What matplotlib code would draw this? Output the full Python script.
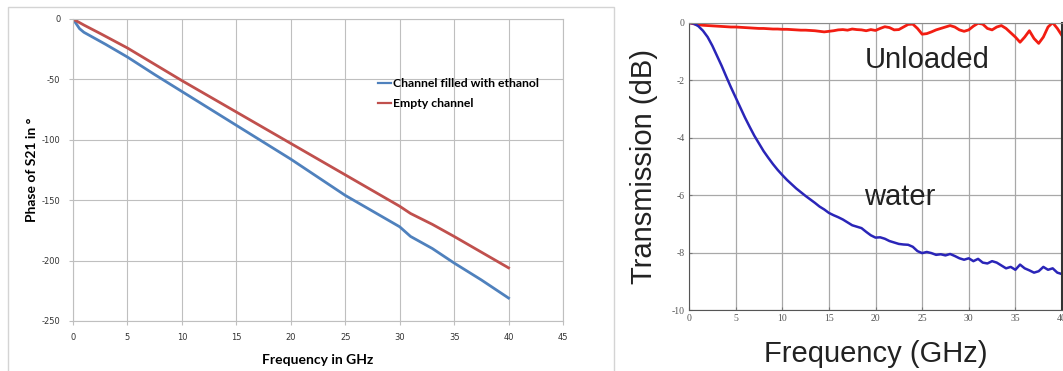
"""Phase of S21 (Excel-style, left) and transmission vs frequency (right)."""
import matplotlib.pyplot as plt
from matplotlib.patches import Rectangle

plt.rcParams["axes.unicode_minus"] = False

# --- left panel: phase of S21 ---
phase_freq_ethanol = [0, 0.3, 0.6, 1, 2, 3, 5, 7.5, 10, 12.5, 15, 17.5, 20, 22.5, 25,
                      27.5, 30, 31, 33, 35, 37.5, 40]
phase_ethanol = [0, -4, -8, -11, -16, -21, -31.5, -46, -60, -74, -88, -102, -116, -131,
                 -146, -159, -172, -180, -190, -202, -216, -231]
phase_freq_empty = [0, 0.5, 1, 2.5, 5, 7.5, 10, 12.5, 15, 17.5, 20, 22.5, 25, 27.5, 30,
                    31, 33, 35, 37.5, 40]
phase_empty = [0, -2.5, -5, -12, -24, -37.5, -51, -64, -77, -90, -103, -116, -129, -142,
               -155, -161, -170, -180, -193, -206]

# --- right panel: transmission ---
trans_freq = [i * 0.5 for i in range(81)]
trans_water = [0, -0.03, -0.12, -0.28, -0.5, -0.8, -1.15, -1.5, -1.88, -2.25,
               -2.6, -2.95, -3.3, -3.62, -3.93, -4.2, -4.47, -4.7, -4.92, -5.12,
               -5.3, -5.47, -5.62, -5.77, -5.9, -6.03, -6.15, -6.27, -6.4, -6.5,
               -6.62, -6.7, -6.77, -6.85, -6.95, -7.05, -7.1, -7.15, -7.28, -7.4,
               -7.48, -7.47, -7.52, -7.6, -7.65, -7.7, -7.72, -7.73, -7.8, -7.95,
               -8.02, -7.98, -8.02, -8.08, -8.06, -8.1, -8.05, -8.12, -8.2, -8.25,
               -8.2, -8.3, -8.22, -8.35, -8.38, -8.3, -8.35, -8.45, -8.55, -8.5,
               -8.6, -8.42, -8.55, -8.62, -8.7, -8.65, -8.5, -8.6, -8.55, -8.7,
               -8.75]
trans_unloaded = [0, -0.04, -0.07, -0.09, -0.1, -0.11, -0.12, -0.13, -0.14, -0.15,
                  -0.15, -0.16, -0.17, -0.18, -0.19, -0.2, -0.2, -0.21, -0.22, -0.22,
                  -0.23, -0.23, -0.24, -0.25, -0.26, -0.26, -0.27, -0.28, -0.3, -0.32,
                  -0.3, -0.28, -0.25, -0.24, -0.26, -0.22, -0.24, -0.25, -0.28, -0.24,
                  -0.27, -0.2, -0.14, -0.17, -0.25, -0.24, -0.15, -0.06, -0.05, -0.2,
                  -0.4, -0.38, -0.32, -0.25, -0.2, -0.15, -0.1, -0.15, -0.25, -0.3,
                  -0.25, -0.12, -0.02, -0.05, -0.2, -0.25, -0.15, -0.1, -0.2, -0.35,
                  -0.5, -0.68, -0.5, -0.28, -0.55, -0.72, -0.5, -0.15, 0.0, -0.2,
                  -0.45]

fig = plt.figure(figsize=(10.63, 3.71), dpi=100)

# light frame around the Excel chart
fig.patches.append(Rectangle((8 / 1063, -0.01), 606 / 1063, 1 - 7 / 371 + 0.01,
                             transform=fig.transFigure, fill=False,
                             edgecolor="#d4d4d4", linewidth=1))

# ----- left chart -----
ax = fig.add_axes([73 / 1063, 1 - 321 / 371, 490 / 1063, 302 / 371])
ax.plot(phase_freq_ethanol, phase_ethanol, color="#4f81bd", linewidth=2,
        label="Channel filled with ethanol")
ax.plot(phase_freq_empty, phase_empty, color="#c0504d", linewidth=2,
        label="Empty channel")
ax.set_xlim(0, 45)
ax.set_ylim(-250, 0)
ax.set_xticks(range(0, 46, 5))
ax.set_yticks(range(-250, 1, 50))
ax.grid(color="#bfbfbf", linewidth=0.8)
ax.set_axisbelow(True)
for s in ax.spines.values():
    s.set_color("#bfbfbf")
    s.set_linewidth(0.8)
ax.tick_params(labelsize=6, colors="#bfbfbf", labelcolor="#333333", length=3, pad=6)
ax.set_xlabel("Frequency in GHz", fontsize=10, fontweight="bold", family="Lato",
              labelpad=8)
ax.set_ylabel("Phase of S21 in °", fontsize=10, fontweight="bold", family="Lato",
              labelpad=3)
leg = ax.legend(loc="upper left", bbox_to_anchor=(0.6, 0.84), frameon=False,
                handlelength=1.1, handletextpad=0.1, labelspacing=0.75,
                prop={"family": "Lato", "weight": "bold", "size": 8.8})
for line in leg.get_lines():
    line.set_linewidth(1.6)

# ----- right chart -----
ax2 = fig.add_axes([689 / 1063, 1 - 310 / 371, 373 / 1063, 287.3 / 371])
ax2.plot(trans_freq, trans_unloaded, color="#f21d12", linewidth=2)
ax2.plot(trans_freq, trans_water, color="#2a25b8", linewidth=1.8)
ax2.set_xlim(0, 40)
ax2.set_ylim(-10, 0)
ax2.set_xticks(range(0, 41, 5))
ax2.set_yticks(range(-10, 1, 2))
ax2.grid(color="#a8a8a8", linewidth=0.9)
ax2.set_axisbelow(True)
for side in ["left", "bottom"]:
    ax2.spines[side].set_color("#555555")
ax2.spines["top"].set_color("#8a8a8a")
ax2.spines["right"].set_color("#333333")
ax2.spines["right"].set_linewidth(1.5)
ax2.tick_params(labelsize=7, colors="#777777", labelcolor="#555555", length=2,
                direction="in", pad=3)
for lab in ax2.get_xticklabels() + ax2.get_yticklabels():
    lab.set_family("Liberation Serif")
ax2.set_xlabel("Frequency (GHz)", fontsize=21, family="Liberation Sans",
               color="#222222", labelpad=12)
ax2.set_ylabel("Transmission (dB)", fontsize=21, family="Liberation Sans",
               color="#222222", labelpad=10)
ax2.text(18.8, -1.31, "Unloaded", fontsize=21, family="Liberation Sans",
         color="#222222", va="center")
ax2.text(18.8, -6.05, "water", fontsize=21, family="Liberation Sans",
         color="#222222", va="center")

fig.savefig("out.png", dpi=100)
